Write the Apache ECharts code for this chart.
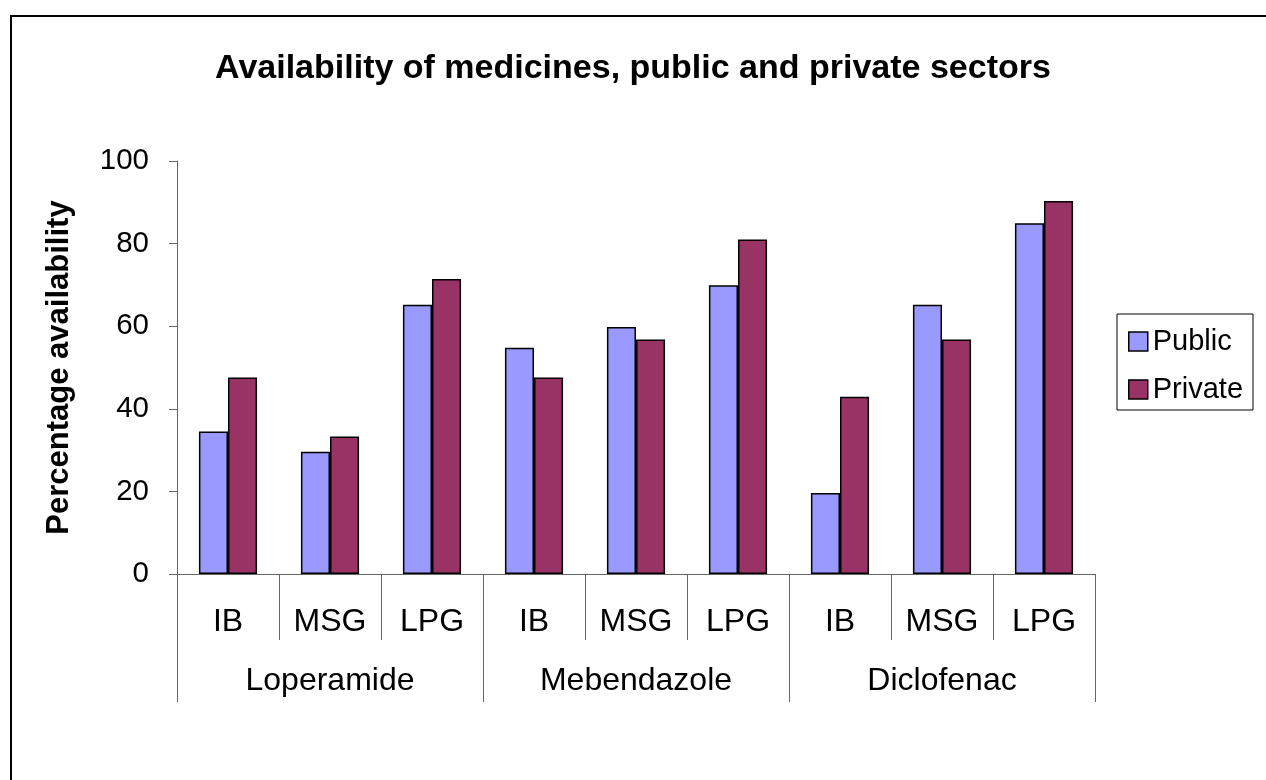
<!DOCTYPE html>
<html>
<head>
<meta charset="utf-8">
<script src="https://cdn.jsdelivr.net/npm/echarts@6/dist/echarts.min.js"></script>
<style>
html,body{margin:0;padding:0;background:#fff;}
#chart{width:1266px;height:780px;}
</style>
</head>
<body>
<div id="chart"></div>
<script>
const titleText = 'Availability of medicines, public and private sectors';
const yAxisName = 'Percentage availability';
const subCategories = ['IB','MSG','LPG','IB','MSG','LPG','IB','MSG','LPG'];
const groups = ['Loperamide','Mebendazole','Diclofenac'];
const seriesNames = ['Public','Private'];
const publicValues = [34.5, 29.6, 65.2, 54.8, 59.8, 69.9, 19.6, 65.2, 84.9];
const privateValues = [47.6, 33.3, 71.4, 47.6, 56.8, 81.0, 42.9, 56.8, 90.3];
const yMin = 0, yMax = 100, yStep = 20;

const FONT = "'Liberation Sans', Arial, sans-serif";
const axisColor = '#666666';

const chart = echarts.init(document.getElementById('chart'), null, {renderer:'canvas'});
chart.setOption({
  backgroundColor: '#ffffff',
  animation: false,
  title: {
    text: titleText,
    left: 'center',
    top: 47,
    textStyle: {fontFamily: FONT, fontSize: 34, fontWeight: 'bold', color: '#000'}
  },
  legend: {
    orient: 'vertical',
    left: 1117,
    top: 314,
    padding: [13, 10, 6, 11],
    itemGap: 19,
    itemWidth: 19,
    itemHeight: 19,
    itemTextGap: 13,
    icon: 'rect',
    borderColor: '#000',
    borderWidth: 1,
    textStyle: {fontFamily: FONT, fontSize: 29, color: '#000'},
    itemStyle: {borderColor: '#000', borderWidth: 1.5},
    data: seriesNames
  },
  grid: {left: 177, right: 171, top: 161, bottom: 206, containLabel: false},
  xAxis: [
    {
      type: 'category',
      data: subCategories,
      position: 'bottom',
      axisLine: {show: true, lineStyle: {color: axisColor, width: 1}},
      axisTick: {show: true, interval: 0, length: 66, lineStyle: {color: axisColor, width: 1}},
      axisLabel: {interval: 0, margin: 32, fontFamily: FONT, fontSize: 32, color: '#000'},
      splitLine: {show: false}
    },
    {
      type: 'category',
      data: groups,
      position: 'bottom',
      axisLine: {show: false},
      axisTick: {show: true, interval: 0, length: 128, lineStyle: {color: axisColor, width: 1}},
      axisLabel: {interval: 0, margin: 91, fontFamily: FONT, fontSize: 32, color: '#000'},
      splitLine: {show: false}
    }
  ],
  yAxis: {
    type: 'value',
    min: yMin,
    max: yMax,
    interval: yStep,
    name: yAxisName,
    nameLocation: 'middle',
    nameGap: 102,
    nameRotate: 90,
    nameTextStyle: {fontFamily: FONT, fontSize: 31, fontWeight: 'bold', color: '#000'},
    axisLine: {show: true, lineStyle: {color: axisColor, width: 1}},
    axisTick: {show: true, length: 8, lineStyle: {color: axisColor, width: 1}},
    axisLabel: {margin: 28, fontFamily: FONT, fontSize: 29.5, color: '#000'},
    splitLine: {show: false}
  },
  series: [
    {
      name: seriesNames[0],
      type: 'bar',
      xAxisIndex: 0,
      data: publicValues,
      barGap: '0%',
      barCategoryGap: '43%',
      itemStyle: {color: '#9999FF', borderColor: '#000', borderWidth: 1.5}
    },
    {
      name: seriesNames[1],
      type: 'bar',
      xAxisIndex: 0,
      data: privateValues,
      barGap: '0%',
      barCategoryGap: '43%',
      itemStyle: {color: '#993366', borderColor: '#000', borderWidth: 1.5}
    }
  ],
  graphic: [
    {
      type: 'rect',
      silent: true,
      z: -1,
      shape: {x: 11, y: 16, width: 1300, height: 800},
      style: {fill: null, stroke: '#000', lineWidth: 2}
    }
  ]
});
</script>
</body>
</html>
